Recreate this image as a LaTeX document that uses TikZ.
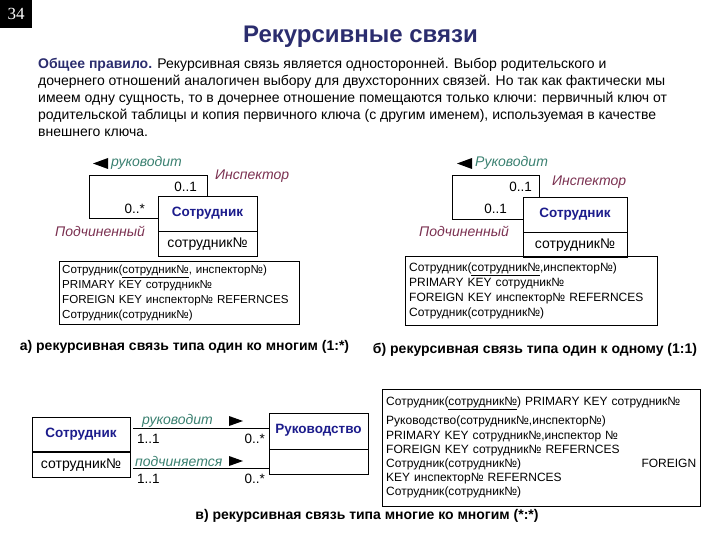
\documentclass[tikz,border=0pt]{standalone}
\usepackage{fontspec}
\setmainfont{Liberation Sans}
\newfontfamily\numfont{Liberation Serif}
\usetikzlibrary{positioning}

\definecolor{titleblue}{HTML}{2B2D6E}
\definecolor{entblue}{HTML}{1C1C8C}
\definecolor{rolered}{HTML}{7A3050}
\definecolor{relgreen}{HTML}{3A8070}

\begin{document}
\begin{tikzpicture}[x=1pt,y=-1pt,
  enthead/.style={draw, minimum height=35pt, inner sep=0pt,
    font=\fontsize{13.5}{15}\selectfont\bfseries, text=entblue},
  entbody/.style={draw, minimum height=25pt, inner sep=0pt,
    font=\fontsize{14}{15}\selectfont},
  role/.style={font=\fontsize{14}{15}\selectfont\itshape, text=rolered, inner sep=0pt},
  rel/.style={font=\fontsize{14}{15}\selectfont\itshape, text=relgreen, inner sep=0pt},
  mult/.style={font=\fontsize{13.5}{15}\selectfont, inner sep=0pt},
  tablebox/.style={draw, align=left, anchor=north west, inner xsep=4pt,
    inner ysep=2pt, font=\fontsize{12}{15}\selectfont},
  caption/.style={font=\fontsize{14}{16}\selectfont\bfseries},
]

\useasboundingbox (0,0) rectangle (720,540);

% page number and title
\node[fill=black, text=white, minimum width=32pt, minimum height=28pt,
  font=\numfont\fontsize{17}{17}\selectfont] (page) at (16,14) {34};
\node[font=\fontsize{24}{28}\selectfont\bfseries, text=titleblue] (title)
  at (360.5,37) {Рекурсивные связи};

% general rule
\node[anchor=north west, align=left, inner sep=0pt,
  font=\fontsize{14}{17}\selectfont] (rule) at (38,58)
  {\textcolor{titleblue}{\textbf{Общее правило.}} Рекурсивная связь является односторонней. Выбор родительского и\\
   дочернего отношений аналогичен выбору для двухсторонних связей. Но так как фактически мы\\
   имеем одну сущность, то в дочернее отношение помещаются только ключи: первичный ключ от\\
   родительской таблицы и копия первичного ключа (с другим именем), используемая в качестве\\
   внешнего ключа.};

% a) one to many
\node[enthead, minimum width=99pt] (empA) at (207.5,213.5) {Сотрудник};
\node[entbody, minimum width=99pt, below=0pt of empA] (empAkey) {сотрудник№};
\coordinate (a1) at (89,175);
\coordinate (a2) at (158,218);
\draw (empA.north) |- (a1) |- (a2);
\fill (93,163.5) -- (108,158) -- (108,169) -- cycle;
\node[rel, anchor=west] (relA) at (111,163) {руководит};
\node[mult, anchor=east] (mA1) at (197,187) {0..1};
\node[mult, anchor=east] (mA2) at (145,209) {0..*};
\node[role, anchor=west] (roleA1) at (215,176) {Инспектор};
\node[role, anchor=west] (roleA2) at (55,231) {Подчиненный};
\node[tablebox, text width=234pt, inner xsep=3pt, minimum height=63pt,
  font=\fontsize{11.6}{15}\selectfont] (tabA) at (59,261)
  {Сотрудник(\underline{сотрудник№}, инспектор№)\\
   PRIMARY KEY сотрудник№\\
   FOREIGN KEY инспектор№ REFERNCES\\
   Сотрудник(сотрудник№)};
\node[caption] (capA) at (184.5,347) {а) рекурсивная связь типа один ко многим (1:*)};

% b) one to one
\node[enthead, minimum width=104pt] (empB) at (575,214.5) {Сотрудник};
\node[entbody, minimum width=104pt, below=0pt of empB] (empBkey) {сотрудник№};
\coordinate (b0) at (539,197);
\coordinate (b1) at (452,175);
\coordinate (b2) at (523,219);
\draw (b0) |- (b1) |- (b2);
\fill (457,163.5) -- (472,158) -- (472,169) -- cycle;
\node[rel, anchor=west] (relB) at (475,163) {Руководит};
\node[mult, anchor=east] (mB1) at (532,187) {0..1};
\node[mult, anchor=east] (mB2) at (507,209) {0..1};
\node[role, anchor=west] (roleB1) at (552,182) {Инспектор};
\node[role, anchor=west] (roleB2) at (419,231) {Подчиненный};
\node[tablebox, text width=244pt, minimum height=69pt] (tabB) at (405,256)
  {Сотрудник(\underline{сотрудник№},инспектор№)\\
   PRIMARY KEY сотрудник№\\
   FOREIGN KEY инспектор№ REFERNCES\\
   Сотрудник(сотрудник№)};
\node[caption] (capB) at (535,350) {б) рекурсивная связь типа один к одному (1:1)};

% c) many to many
\node[enthead, minimum width=98pt] (empC) at (81,434.5) {Сотрудник};
\node[entbody, minimum width=98pt, below=0pt of empC] (empCkey) {сотрудник№};
\draw[line width=1.6pt] (empC.south west) -- (empC.south east);
\node[enthead, minimum width=99pt, minimum height=36pt] (mgmt) at (318.5,431)
  {\raisebox{4pt}{Руководство}};
\node[entbody, minimum width=99pt, below=0pt of mgmt] (mgmtkey) {};
\coordinate (c1) at (133,428);
\coordinate (c2) at (133,468);
\draw (c1) -- (c1 -| mgmt.west);
\draw (c2) -- (c2 -| mgmt.west);
\node[rel, anchor=west] (relC1) at (142,421) {руководит};
\node[rel, anchor=west] (relC2) at (135,461) {подчиняется};
\fill (243,421) -- (229,416) -- (229,426) -- cycle;
\fill (243,461) -- (229,456) -- (229,466) -- cycle;
\node[mult, anchor=west] (mC1) at (137,439) {1..1};
\node[mult, anchor=west] (mC3) at (137,479) {1..1};
\node[mult, anchor=east] (mC2) at (265,439) {0..*};
\node[mult, anchor=east] (mC4) at (265,479) {0..*};
\node[tablebox, text width=310pt, minimum height=117pt,
  font=\fontsize{12}{14.2}\selectfont] (tabC) at (382,389)
  {Сотрудник(\underline{сотрудник№}) PRIMARY KEY сотрудник№\\[5pt]
   Руководство(сотрудник№,инспектор№)\\
   PRIMARY KEY сотрудник№,инспектор №\\
   FOREIGN KEY сотрудник№ REFERNCES\\
   Сотрудник(сотрудник№)\hfill FOREIGN\\
   KEY инспектор№ REFERNCES\\
   Сотрудник(сотрудник№)};
\node[caption] (capC) at (367,516) {в) рекурсивная связь типа многие ко многим (*:*)};

\end{tikzpicture}
\end{document}
